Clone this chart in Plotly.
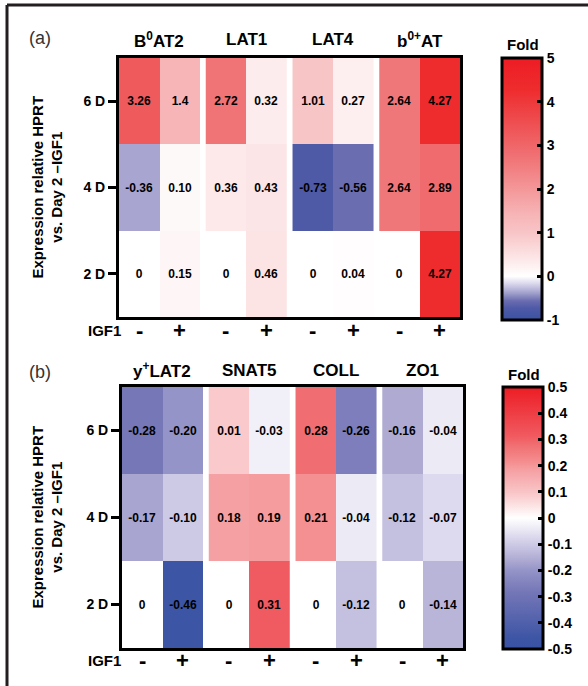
import plotly.graph_objects as go

W, H = 588, 686

# ---------------- data ----------------
days = ["2 D", "4 D", "6 D"]          # bottom -> top
igf1_marks = ["-", "+"]                # -IGF1 / +IGF1 per gene

top_genes = ["B<sup>0</sup>AT2", "LAT1", "LAT4", "b<sup>0+</sup>AT"]
bottom_genes = ["y<sup>+</sup>LAT2", "SNAT5", "COLL", "ZO1"]

# rows: 2 D, 4 D, 6 D ; columns: -IGF1, +IGF1
b0at2_labels = [["0", "0.15"], ["-0.36", "0.10"], ["3.26", "1.4"]]
lat1_labels = [["0", "0.46"], ["0.36", "0.43"], ["2.72", "0.32"]]
lat4_labels = [["0", "0.04"], ["-0.73", "-0.56"], ["1.01", "0.27"]]
b0at_labels = [["0", "4.27"], ["2.64", "2.89"], ["2.64", "4.27"]]

ylat2_labels = [["0", "-0.46"], ["-0.17", "-0.10"], ["-0.28", "-0.20"]]
snat5_labels = [["0", "0.31"], ["0.18", "0.19"], ["0.01", "-0.03"]]
coll_labels = [["0", "-0.12"], ["0.21", "-0.04"], ["0.28", "-0.26"]]
zo1_labels = [["0", "-0.14"], ["-0.12", "-0.07"], ["-0.16", "-0.04"]]

# shading values (SNAT5 6D -IGF1 is shaded pinker than its label)
snat5_shade = [[0, 0.31], [0.18, 0.19], [0.09, -0.03]]

top_cb_ticks = [-1, 0, 1, 2, 3, 4, 5]
top_cb_text = ["-1", "0", "1", "2", "3", "4", "5"]
bottom_cb_ticks = [-0.5, -0.4, -0.3, -0.2, -0.1, 0, 0.1, 0.2, 0.3, 0.4, 0.5]
bottom_cb_text = ["-0.5", "-0.4", "-0.3", "-0.2", "-0.1", "0", "0.1", "0.2", "0.3", "0.4", "0.5"]

# colour stops in value space
top_stops = [(-1, "#3a52a3"), (-0.73, "#4e5aa6"), (-0.56, "#6a6db0"), (-0.36, "#a8a6d0"),
             (-0.15, "#dedcee"), (0, "#ffffff"), (0.45, "#fce4e5"), (1.0, "#f8c5c7"),
             (1.4, "#f7b5b7"), (2.7, "#f07476"), (3.26, "#ef5a5d"), (4.27, "#ee2c2e"),
             (5, "#ed1c24")]
bottom_stops = [(-0.5, "#3a52a3"), (-0.46, "#3d55a5"), (-0.28, "#7577b7"), (-0.2, "#9594c8"),
                (-0.16, "#aeaad2"), (-0.12, "#c3c0e0"), (-0.07, "#ddd9ee"), (-0.04, "#ecebf5"),
                (0, "#ffffff"), (0.09, "#f9c9cb"), (0.185, "#f59fa2"), (0.21, "#f49091"),
                (0.28, "#f06e71"), (0.31, "#f05b61"), (0.5, "#ed1c24")]


def norm_scale(stops):
    lo, hi = stops[0][0], stops[-1][0]
    return [[(v - lo) / (hi - lo), c] for v, c in stops]


def to_num(labels):
    return [[float(s) for s in row] for row in labels]


FONT = "Liberation Sans, Arial, sans-serif"
NARROW = "Liberation Sans Narrow, Liberation Sans, Arial, sans-serif"
step = 2.15  # spacing between gene groups (2 columns + gap)

fig = go.Figure()

panels = [
    dict(genes=top_genes, labels=[b0at2_labels, lat1_labels, lat4_labels, b0at_labels],
         shades=[to_num(b0at2_labels), to_num(lat1_labels), to_num(lat4_labels), to_num(b0at_labels)],
         xa="x", ya="y", ca="coloraxis", xdom=(119, 460), ydom=(58, 317),
         cb=(502, 58, 320), stops=top_stops, ticks=top_cb_ticks, ticktext=top_cb_text,
         tag="(a)", tag_y=38, gene_y=40, fold_y=45, igf_y=330),
    dict(genes=bottom_genes, labels=[ylat2_labels, snat5_labels, coll_labels, zo1_labels],
         shades=[to_num(ylat2_labels), snat5_shade, to_num(coll_labels), to_num(zo1_labels)],
         xa="x2", ya="y2", ca="coloraxis2", xdom=(122, 463), ydom=(387, 648),
         cb=(503, 387, 649), stops=bottom_stops, ticks=bottom_cb_ticks, ticktext=bottom_cb_text,
         tag="(b)", tag_y=372, gene_y=370, fold_y=374, igf_y=660),
]

shapes = []
annotations = []

for pi, p in enumerate(panels):
    for g, gene in enumerate(p["genes"]):
        xs = [g * step, g * step + 1]
        fig.add_trace(go.Heatmap(
            x=xs, y=days, z=p["shades"][g], text=p["labels"][g],
            texttemplate="%{text}",
            textfont=dict(family=NARROW, size=12, color="black", weight="bold"),
            coloraxis=p["ca"], xaxis=p["xa"], yaxis=p["ya"], hoverinfo="skip",
        ))
        annotations.append(dict(
            x=g * step + 0.5, xref=p["xa"], y=1 - p["gene_y"] / H, yref="paper",
            text="<b>%s</b>" % gene, showarrow=False, xanchor="center", yanchor="middle",
            font=dict(family=FONT, size=17, color="black")))
        for xv, mark in zip(xs, igf1_marks):
            annotations.append(dict(
                x=xv, xref=p["xa"], y=1 - p["igf_y"] / H, yref="paper",
                text="<b>%s</b>" % mark, showarrow=False, xanchor="center", yanchor="middle",
                font=dict(family=FONT, size=22, color="black")))

    axn = "" if pi == 0 else "2"
    xrange_ = [-0.5, (len(p["genes"]) - 1) * step + 1.5]
    fig.update_layout(**{
        "xaxis" + axn: dict(
            domain=[p["xdom"][0] / W, p["xdom"][1] / W], range=xrange_, automargin=False,
            anchor=p["ya"], showline=True, linewidth=3, linecolor="black", mirror=True,
            ticks="", showticklabels=False, showgrid=False, zeroline=False),
        "yaxis" + axn: dict(
            domain=[1 - p["ydom"][1] / H, 1 - p["ydom"][0] / H], range=[-0.5, 2.5],
            anchor=p["xa"], type="category", showline=True, linewidth=3, linecolor="black",
            mirror=True, ticks="outside", ticklen=8, tickwidth=3, tickcolor="black",
            showgrid=False, zeroline=False, automargin=False,
            tickfont=dict(family=FONT, size=14, color="black", weight="bold")),
        p["ca"]: dict(
            colorscale=norm_scale(p["stops"]), cmin=p["stops"][0][0], cmax=p["stops"][-1][0],
            colorbar=dict(
                x=p["cb"][0] / W, xanchor="left", xpad=0, y=1 - p["cb"][1] / H, yanchor="top",
                ypad=0, len=(p["cb"][2] - p["cb"][1]) / H, lenmode="fraction", thickness=40,
                outlinewidth=3, outlinecolor="black", ticks="inside", ticklen=6, tickwidth=3,
                tickcolor="black", tickvals=p["ticks"], ticktext=p["ticktext"],
                tickfont=dict(family=FONT, size=14, color="black", weight="bold")),
        ),
    })

    # left-side colourbar ticks (mirrored), from tick values
    lo, hi = p["stops"][0][0], p["stops"][-1][0]
    cb_x, cb_top, cb_bot = p["cb"]
    for v in p["ticks"][1:-1]:
        ypx = cb_bot - (v - lo) / (hi - lo) * (cb_bot - cb_top)
        shapes.append(dict(type="line", xref="paper", yref="paper",
                           x0=cb_x / W, x1=(cb_x + 7) / W, y0=1 - ypx / H, y1=1 - ypx / H,
                           line=dict(color="black", width=3)))

    annotations.append(dict(x=(cb_x + 21) / W, y=1 - p["fold_y"] / H, xref="paper", yref="paper",
                            text="<b>Fold</b>", showarrow=False, xanchor="center", yanchor="middle",
                            font=dict(family=FONT, size=15, color="black")))
    annotations.append(dict(x=40 / W, y=1 - p["tag_y"] / H, xref="paper", yref="paper",
                            text=p["tag"], showarrow=False, xanchor="center", yanchor="middle",
                            font=dict(family=FONT, size=18, color="#333333")))
    annotations.append(dict(x=123 / W, y=1 - p["igf_y"] / H, xref="paper", yref="paper",
                            text="<b>IGF1</b>", showarrow=False, xanchor="right", yanchor="middle",
                            font=dict(family=FONT, size=15, color="black")))
    ymid = (p["ydom"][0] + p["ydom"][1]) / 2
    annotations.append(dict(x=47 / W, y=1 - ymid / H, xref="paper", yref="paper",
                            text="<b>Expression relative HPRT<br>vs. Day 2 \u2013IGF1</b>",
                            showarrow=False, textangle=-90, xanchor="center", yanchor="middle",
                            font=dict(family=FONT, size=15, color="black")))

# outer frame (top and left)
shapes.append(dict(type="line", xref="paper", yref="paper", x0=7 / W, x1=1, y0=1 - 5 / H,
                   y1=1 - 5 / H, line=dict(color="#231f20", width=3)))
shapes.append(dict(type="line", xref="paper", yref="paper", x0=7 / W, x1=7 / W, y0=0,
                   y1=1 - 5 / H, line=dict(color="#231f20", width=3)))

fig.update_layout(width=W, height=H, margin=dict(l=0, r=0, t=0, b=0, autoexpand=False),
                  paper_bgcolor="white", plot_bgcolor="white", showlegend=False,
                  shapes=shapes, annotations=annotations,
                  font=dict(family=FONT, color="black"))

# remove the browser's default 8px page margin so the figure fills the window exactly
fig.write_html("out.html", config={"displayModeBar": False},
               post_script="document.body.style.margin='0px';")
